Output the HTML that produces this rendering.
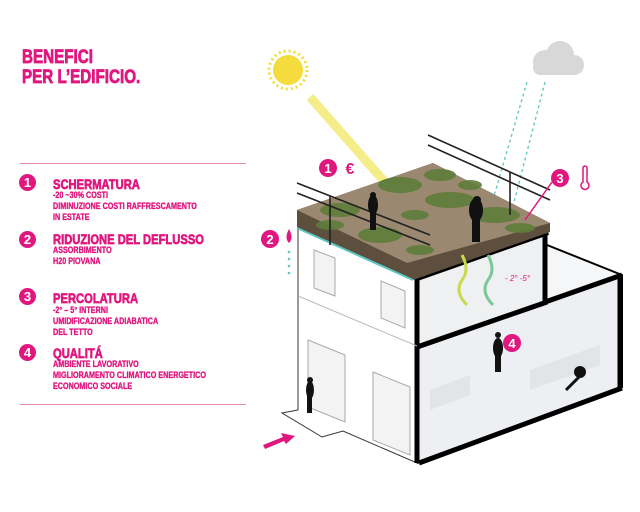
<!DOCTYPE html>
<html><head><meta charset="utf-8"><style>
body{margin:0;width:640px;height:512px;background:#fff;overflow:hidden;position:relative;font-family:"Liberation Sans",sans-serif;color:#e0177f}
.t{position:absolute;font-weight:700;transform-origin:0 0;transform:scaleX(.8);white-space:nowrap;-webkit-text-stroke:0.5px #e0177f}
.h{font-size:19px;line-height:20px;left:22px;-webkit-text-stroke:0.8px #e0177f}
.ti{font-size:14px;left:53px;-webkit-text-stroke:0.7px #e0177f}
.s{font-size:9px;line-height:10.8px;left:53px;-webkit-text-stroke:0.35px #e0177f}
.c{position:absolute;width:17px;height:17px;border-radius:50%;background:#e0177f;color:#fff;font-weight:bold;font-size:13px;line-height:17px;text-align:center}
.ln{position:absolute;left:20px;width:226px;height:1px;background:#e58ab5}
</style></head><body>
<div class="t h" style="top:48px">BENEFICI<br>PER L’EDIFICIO.</div>
<div class="ln" style="top:163px"></div>
<div class="ln" style="top:404px"></div>
<div class="c" style="left:19px;top:174px">1</div>
<div class="t ti" style="top:176px">SCHERMATURA</div>
<div class="t s" style="top:190px">-20 ~30% COSTI<br>DIMINUZIONE COSTI RAFFRESCAMENTO<br>IN ESTATE</div>
<div class="c" style="left:19px;top:231px">2</div>
<div class="t ti" style="top:231px">RIDUZIONE DEL DEFLUSSO</div>
<div class="t s" style="top:245px">ASSORBIMENTO<br>H20 PIOVANA</div>
<div class="c" style="left:19px;top:288px">3</div>
<div class="t ti" style="top:290px">PERCOLATURA</div>
<div class="t s" style="top:305px">-2° – 5° INTERNI<br>UMIDIFICAZIONE ADIABATICA<br>DEL TETTO</div>
<div class="c" style="left:19px;top:344px">4</div>
<div class="t ti" style="top:345px">QUALITÁ</div>
<div class="t s" style="top:359px">AMBIENTE LAVORATIVO<br>MIGLIORAMENTO CLIMATICO ENERGETICO<br>ECONOMICO SOCIALE</div>

<svg width="640" height="512" style="position:absolute;left:0;top:0" xmlns="http://www.w3.org/2000/svg">
<circle cx="288" cy="70" r="15" fill="#f3dc3c"/>
<circle cx="288" cy="70" r="19" fill="none" stroke="#f3dc3c" stroke-width="3" stroke-dasharray="2 3"/>
<line x1="310" y1="97" x2="420" y2="222" stroke="#f5ec8a" stroke-width="9"/>
<g fill="#d8d8d8"><circle cx="545" cy="62" r="12"/><circle cx="560" cy="55" r="14"/><circle cx="574" cy="65" r="10"/><rect x="533" y="60" width="48" height="15" rx="7"/></g>
<g stroke="#5cc7c0" stroke-width="1.3" stroke-dasharray="3 3"><line x1="527" y1="82" x2="490" y2="210"/><line x1="545" y1="82" x2="512" y2="210"/></g>
<polygon points="417,347 547,302 547,245 622,275 622,387 417,463" fill="#f5f6f8"/>
<polygon points="417,347 622,275 622,387 417,463" fill="#edeff2"/>
<g fill="#e2e4e7"><polygon points="430,390 470,375 470,395 430,410"/><polygon points="530,370 600,345 600,365 530,390"/><polygon points="430,300 470,287 470,300 430,313"/></g>
<polyline points="547,245 622,275 622,387 417,463" fill="none" stroke="#000" stroke-width="2"/>
<polyline points="417,347 622,275" fill="none" stroke="#000" stroke-width="5"/>
<line x1="620" y1="276" x2="620" y2="388" stroke="#000" stroke-width="5"/>
<line x1="419" y1="463" x2="622" y2="388" stroke="#000" stroke-width="5"/>
<polygon points="417,277 547,232 547,302 417,347" fill="#eef0f2"/>
<line x1="545" y1="232" x2="545" y2="304" stroke="#000" stroke-width="5"/>
<line x1="417" y1="347" x2="547" y2="302" stroke="#000" stroke-width="5"/>
<polygon points="298,225 417,277 417,463 343,431 322,437 282,413 298,410" fill="#fff" stroke="#333" stroke-width="1"/>
<line x1="417" y1="277" x2="417" y2="463" stroke="#000" stroke-width="5"/>
<line x1="298" y1="296" x2="417" y2="346" stroke="#bbb"/>
<g fill="#f3f3f3" stroke="#aaa"><polygon points="314,250 335,258 335,296 314,288"/><polygon points="381,281 405,291 405,328 381,318"/><polygon points="308,340 345,355 345,422 308,407"/><polygon points="373,372 410,387 410,455 373,440"/></g>
<line x1="417" y1="278" x2="548" y2="232" stroke="#000" stroke-width="6"/>
<polygon points="297,210 433,163 550,223 550,232 413,280 297,228" fill="#5e4e3e"/>
<polygon points="297,210 433,163 550,223 407,263" fill="#9a8870"/>
<g fill="#5f7d3a" opacity=".9"><ellipse cx="340" cy="210" rx="20" ry="7"/><ellipse cx="400" cy="185" rx="22" ry="8"/><ellipse cx="450" cy="200" rx="25" ry="8"/><ellipse cx="380" cy="235" rx="22" ry="8"/><ellipse cx="495" cy="215" rx="25" ry="8"/><ellipse cx="440" cy="175" rx="16" ry="6"/><ellipse cx="520" cy="228" rx="15" ry="5"/><ellipse cx="415" cy="215" rx="14" ry="5"/><ellipse cx="470" cy="185" rx="12" ry="5"/><ellipse cx="330" cy="225" rx="14" ry="5"/><ellipse cx="420" cy="250" rx="14" ry="5"/></g>
<line x1="297" y1="228" x2="413" y2="280" stroke="#5cc7c0" stroke-width="2"/>
<g stroke="#222" stroke-width="1.6" fill="none"><polyline points="297,183 430,235"/><polyline points="297,193 430,245"/><polyline points="428,135 550,190"/><polyline points="428,145 550,200"/><line x1="330" y1="196" x2="330" y2="245"/><line x1="510" y1="172" x2="510" y2="215"/></g>
<g fill="#111"><ellipse cx="373" cy="205" rx="5" ry="10"/><rect x="370" y="210" width="6" height="20"/><circle cx="373" cy="195" r="3"/><ellipse cx="476" cy="210" rx="7" ry="12"/><rect x="472" y="215" width="8" height="27"/><circle cx="477" cy="200" r="4"/>
<ellipse cx="498" cy="348" rx="5" ry="10"/><rect x="495" y="352" width="6" height="20"/><circle cx="498" cy="335" r="3"/>
<ellipse cx="310" cy="390" rx="4" ry="9"/><rect x="307" y="393" width="5" height="20"/><circle cx="310" cy="380" r="3"/>
<ellipse cx="580" cy="372" rx="6" ry="6"/><line x1="580" y1="376" x2="566" y2="390" stroke="#111" stroke-width="3"/></g>
<path d="M462,255 q8,15 0,25 q-8,12 5,25" stroke="#c9d94d" stroke-width="3" fill="none"/>
<path d="M488,255 q8,15 0,25 q-8,12 5,25" stroke="#7cc79a" stroke-width="3" fill="none"/>
<text x="505" y="281" font-size="8" fill="#e0177f" font-family="Liberation Sans" font-style="italic">- 2° -5°</text>
<g font-family="Liberation Sans" font-weight="bold" text-anchor="middle">
<circle cx="328" cy="168" r="9" fill="#e0177f"/><text x="328" y="173" fill="#fff" font-size="13">1</text>
<text x="350" y="174" fill="#e0177f" font-size="16">€</text>
<circle cx="270" cy="239" r="9" fill="#e0177f"/><text x="270" y="244" fill="#fff" font-size="13">2</text>
<circle cx="560" cy="178" r="9" fill="#e0177f"/><text x="560" y="183" fill="#fff" font-size="13">3</text>
<circle cx="512" cy="343" r="9" fill="#e0177f"/><text x="512" y="348" fill="#fff" font-size="13">4</text>
</g>
<path d="M289,229 q-5,9 0,14 q5,-5 0,-14z" fill="#e0177f"/>
<g fill="#5cc7c0"><circle cx="289" cy="252" r="1.3"/><circle cx="289" cy="259" r="1.3"/><circle cx="289" cy="266" r="1.3"/><circle cx="289" cy="273" r="1.3"/></g>
<line x1="552" y1="182" x2="525" y2="220" stroke="#e0177f" stroke-width="1.5"/>
<g stroke="#e0177f" stroke-width="1.5" fill="none"><path d="M583,168 v14 a4,4 0 1 0 4,0 v-14 a2,2 0 0 0 -4,0z"/></g>
<polygon points="263,445 283,437 281,433 295,436 286,444 284,441 265,449" fill="#e0177f"/>
</svg>
</body></html>
